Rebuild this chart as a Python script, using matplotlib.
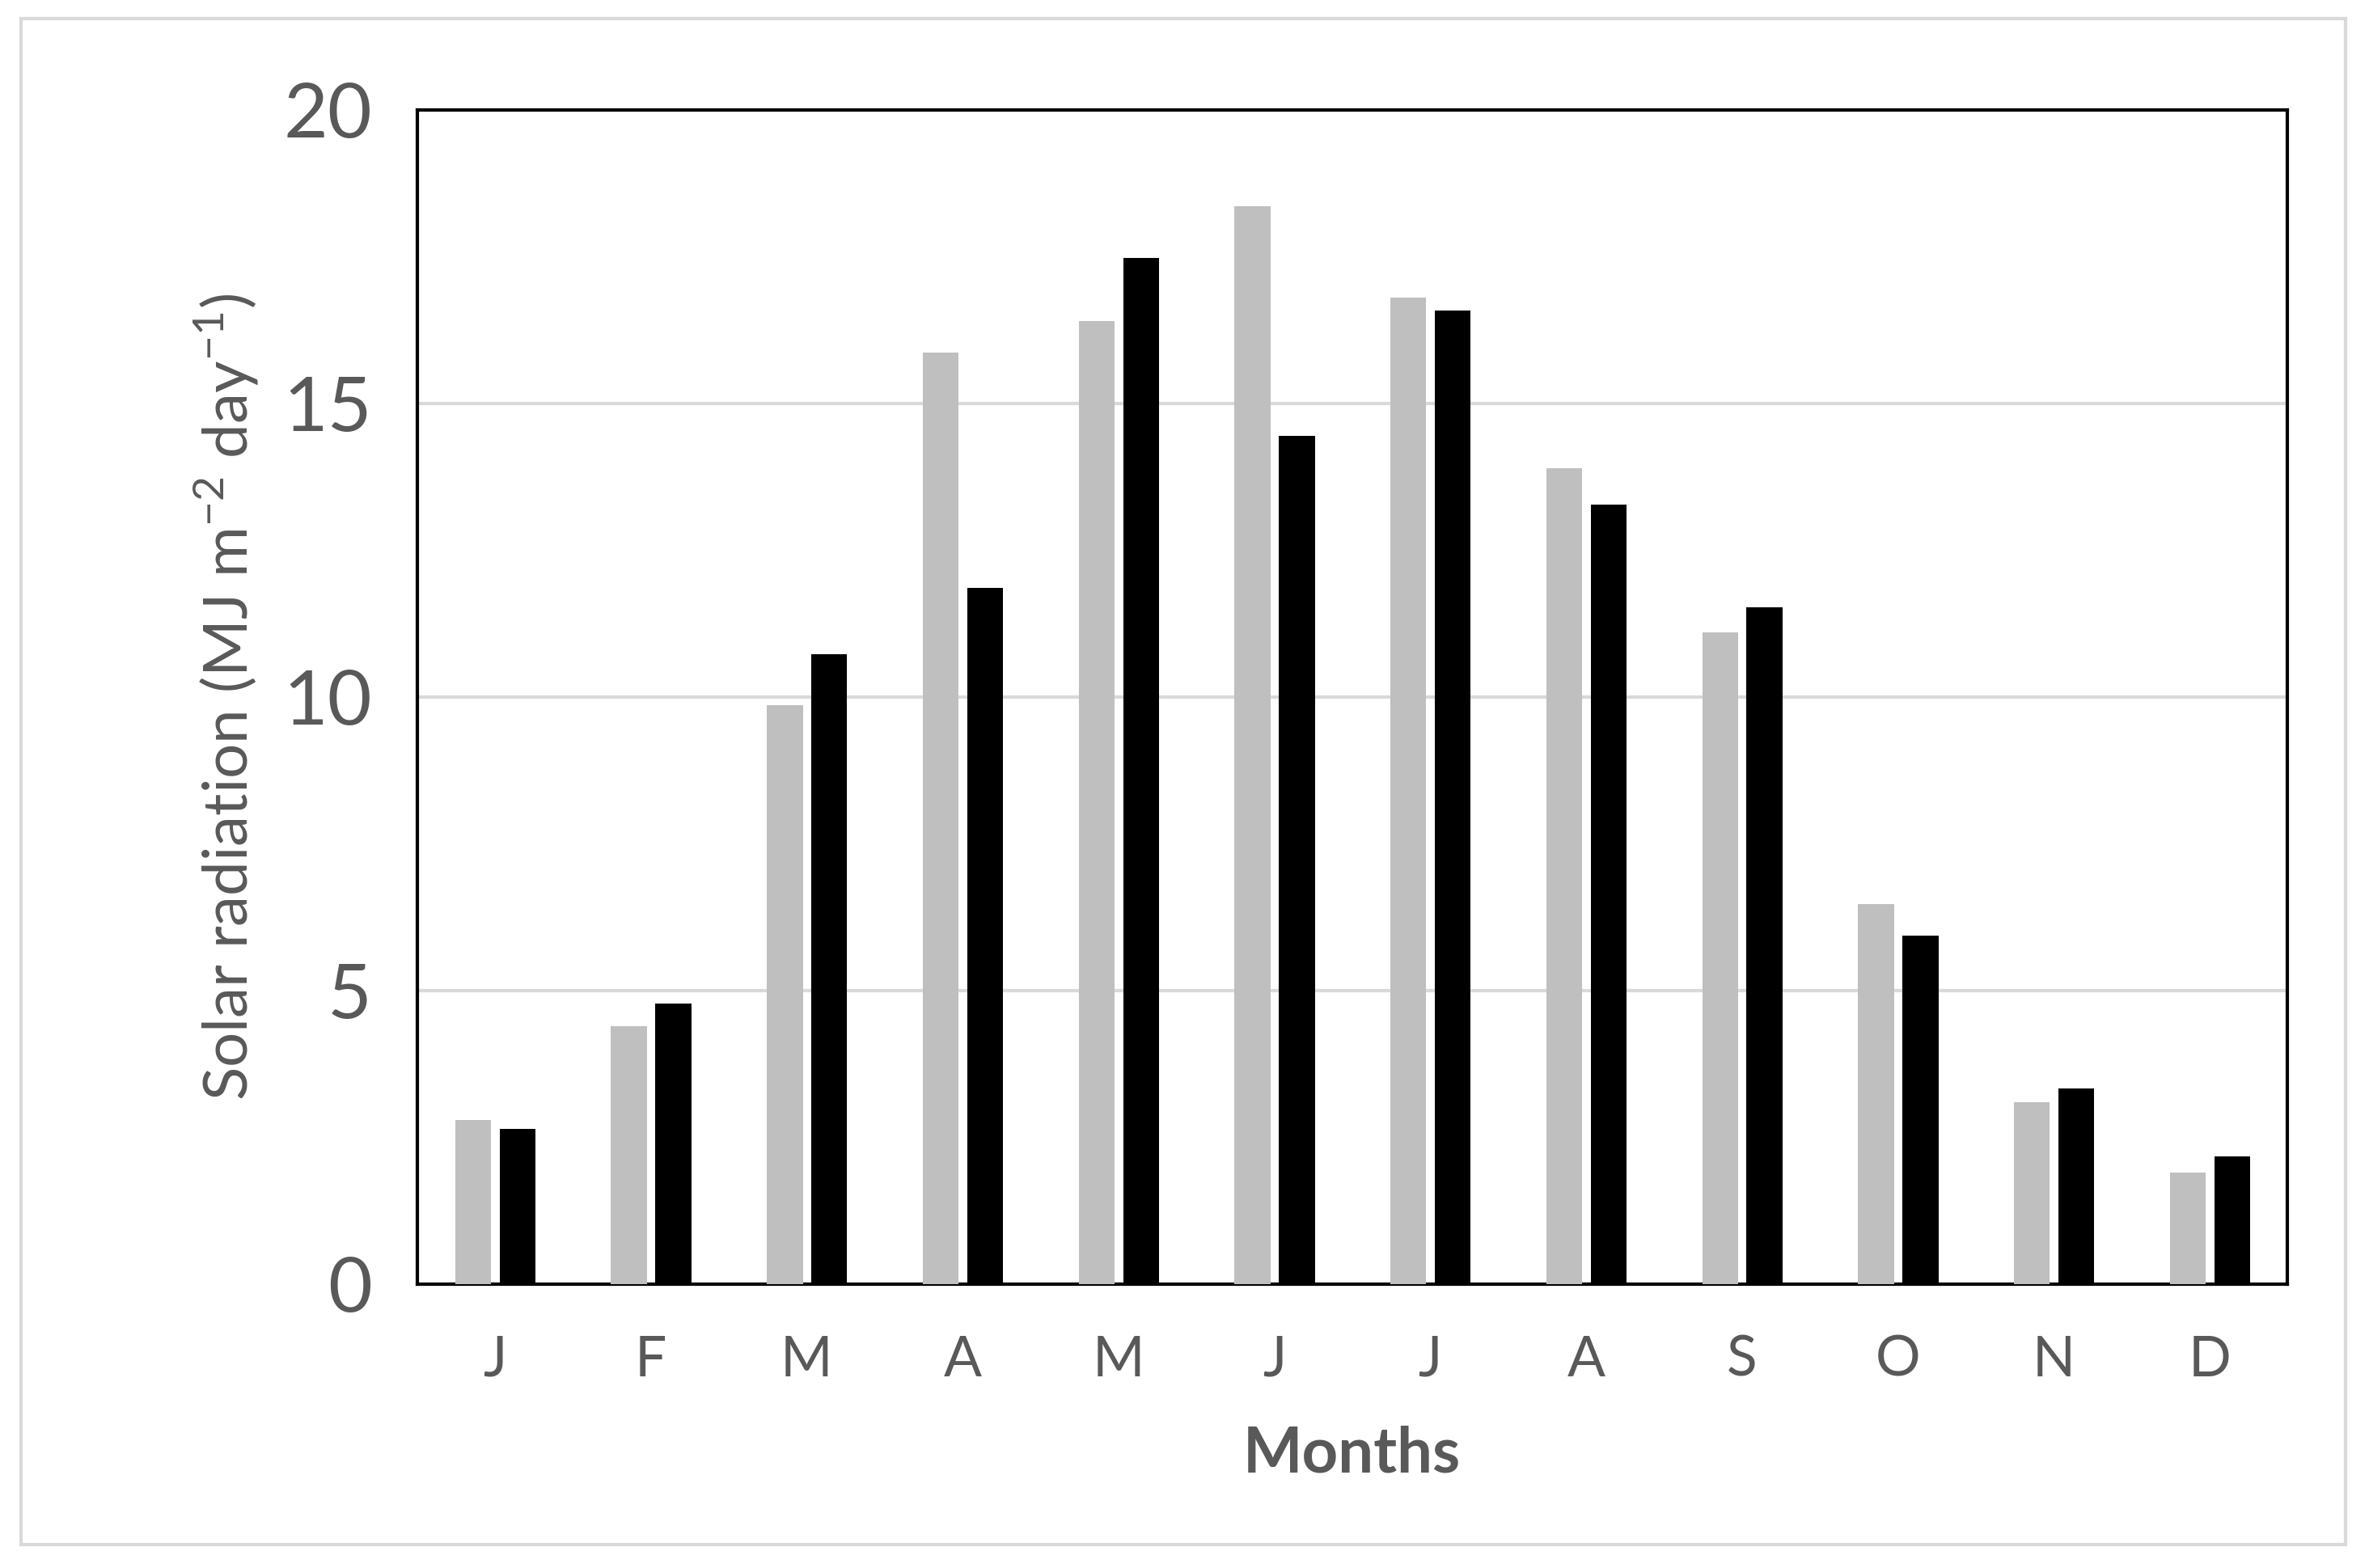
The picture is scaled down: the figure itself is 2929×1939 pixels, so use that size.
import matplotlib.pyplot as plt
import numpy as np
from matplotlib.patches import Rectangle

months = ["J", "F", "M", "A", "M", "J", "J", "A", "S", "O", "N", "D"]
series_gray = [2.8, 4.4, 9.86, 15.87, 16.4, 18.36, 16.8, 13.9, 11.1, 6.47, 3.1, 1.9]
series_black = [2.64, 4.78, 10.73, 11.86, 17.48, 14.45, 16.58, 13.27, 11.53, 5.93, 3.34, 2.18]
yticks = [0, 5, 10, 15, 20]

plt.rcParams['font.family'] = ['Lato', 'DejaVu Sans']
plt.rcParams['mathtext.fontset'] = 'custom'
plt.rcParams['mathtext.rm'] = 'Lato'

fig = plt.figure(figsize=(29.29, 19.39), dpi=100)
ax = fig.add_axes([0.176, 0.181, 0.7896, 0.749])

# outer frame
fig.patches.append(Rectangle((0.009, 0.015), 0.981, 0.973, transform=fig.transFigure,
                             fill=False, edgecolor="#d9d9d9", linewidth=3))

x = np.arange(len(months))
w = 0.23
ax.bar(x - 0.14, series_gray, w, color="#bfbfbf", zorder=3)
ax.bar(x + 0.145, series_black, w, color="black", zorder=3)

ax.set_xlim(-0.5, len(months) - 0.5)
ax.set_ylim(0, 20)
ax.set_yticks(yticks)
ax.set_xticks(x)
ax.set_xticklabels(months)
ax.yaxis.grid(True, color="#d9d9d9", linewidth=3, zorder=0)
ax.set_axisbelow(True)
for s in ax.spines.values():
    s.set_linewidth(3)
    s.set_color("black")
ax.tick_params(axis="both", length=0, colors="#595959")
ax.tick_params(axis="y", labelsize=68, pad=40)
ax.tick_params(axis="x", labelsize=50, pad=45)
ax.set_ylabel(r"Solar radiation (MJ m$^{-2}$ day$^{-1}$)", fontsize=55, color="#595959", labelpad=20)
ax.set_xlabel("Months", fontsize=56, fontweight="bold", color="#595959", labelpad=35)

fig.savefig("out.png", dpi=100)
